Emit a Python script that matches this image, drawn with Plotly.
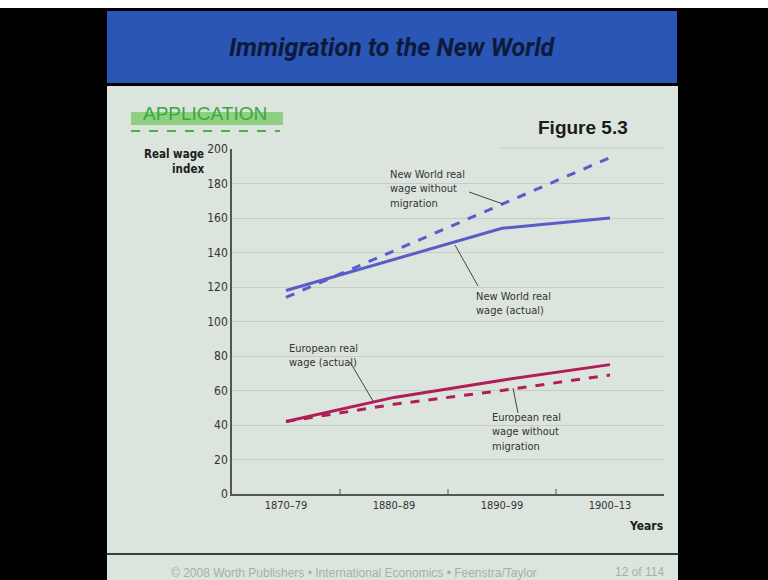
import plotly.graph_objects as go

periods = ["1870–79", "1880–89", "1890–99", "1900–13"]
nw_actual = [118, 136, 154, 160]
nw_without = [114, 141, 168, 195]
eu_actual = [42, 56, 66, 75]
eu_without = [42, 52, 60, 69]
y_ticks = list(range(0, 201, 20))

W, H = 768, 580
FONT = "DejaVu Sans Condensed, Liberation Sans Narrow, Roboto, sans-serif"
BLUE = "#5a5cc8"
RED = "#b01e57"
BG = "#dce4de"

def px(x):
    return x / W

def py(y):
    return 1 - y / H

fig = go.Figure()
fig.add_trace(go.Scatter(x=periods, y=nw_actual, mode="lines",
                         line=dict(color=BLUE, width=3), showlegend=False))
fig.add_trace(go.Scatter(x=periods, y=nw_without, mode="lines",
                         line=dict(color=BLUE, width=3, dash="dash"), showlegend=False))
fig.add_trace(go.Scatter(x=periods, y=eu_actual, mode="lines",
                         line=dict(color=RED, width=3), showlegend=False))
fig.add_trace(go.Scatter(x=periods, y=eu_without, mode="lines",
                         line=dict(color=RED, width=3, dash="dash"), showlegend=False))

shapes = [
    dict(type="rect", xref="paper", yref="paper", x0=0, x1=1, y0=py(8), y1=1,
         fillcolor="white", line_width=0, layer="below"),
    dict(type="rect", xref="paper", yref="paper", x0=px(107), x1=px(677), y0=py(83), y1=py(11),
         fillcolor="#2a56b6", line_width=0, layer="below"),
    dict(type="rect", xref="paper", yref="paper", x0=px(107), x1=px(678), y0=0, y1=py(86),
         fillcolor=BG, line_width=0, layer="below"),
    dict(type="rect", xref="paper", yref="paper", x0=px(131), x1=px(283), y0=py(125), y1=py(112),
         fillcolor="#8fcf82", line_width=0, layer="below"),
    dict(type="line", xref="paper", yref="paper", x0=px(131), x1=px(280), y0=py(131), y1=py(131),
         line=dict(color="#4caf4a", width=2, dash="dash"), layer="below"),
    dict(type="line", xref="paper", yref="paper", x0=px(500), x1=px(665), y0=py(148), y1=py(148),
         line=dict(color="#c8d0ca", width=1), layer="below"),
    dict(type="line", xref="paper", yref="paper", x0=px(107), x1=px(678), y0=py(554), y1=py(554),
         line=dict(color="#3a3d3b", width=2), layer="below"),
]

for b in [0.5, 1.5, 2.5]:
    shapes.append(dict(type="line", xref="x", yref="paper", x0=b, x1=b,
                       y0=py(494), y1=py(489), line=dict(color="#555", width=1)))

annotations = [
    dict(text="<i><b>Immigration to the New World</b></i>", xref="paper", yref="paper",
         x=px(392), y=py(47), showarrow=False, xanchor="center", yanchor="middle",
         font=dict(family="Roboto, sans-serif", size=25, color="#0e1a3a")),
    dict(text="APPLICATION", xref="paper", yref="paper", x=px(141), y=py(113),
         showarrow=False, xanchor="left", yanchor="middle",
         font=dict(family="Liberation Sans, sans-serif", size=19, color="#3aa840")),
    dict(text="<b>Figure 5.3</b>", xref="paper", yref="paper", x=px(630), y=py(127),
         showarrow=False, xanchor="right", yanchor="middle",
         font=dict(family="Liberation Sans, sans-serif", size=19, color="#1b1b1b")),
    dict(text="<b>Real wage</b><br><b>index</b>", xref="paper", yref="paper", x=px(206), y=py(161),
         showarrow=False, xanchor="right", yanchor="middle", align="right",
         font=dict(family=FONT, size=11.5, color="#1b1b1b")),
    dict(text="<b>Years</b>", xref="paper", yref="paper", x=px(665), y=py(526),
         showarrow=False, xanchor="right", yanchor="middle",
         font=dict(family=FONT, size=12, color="#1b1b1b")),
    dict(text="© 2008 Worth Publishers • International Economics • Feenstra/Taylor",
         xref="paper", yref="paper", x=px(354), y=py(573), showarrow=False,
         xanchor="center", yanchor="middle",
         font=dict(family="Liberation Sans, sans-serif", size=12, color="#a8aea9")),
    dict(text="12 of 114", xref="paper", yref="paper", x=px(666), y=py(572), showarrow=False,
         xanchor="right", yanchor="middle",
         font=dict(family="Liberation Sans, sans-serif", size=12, color="#a8aea9")),
]

lab_font = dict(family=FONT, size=11, color="#333")

def label(text, tx, ty, lx0, ly0, lx1, ly1):
    annotations.append(dict(text=text, xref="paper", yref="paper", x=px(tx), y=py(ty),
                            showarrow=False, xanchor="left", yanchor="top", align="left",
                            font=lab_font))
    shapes.append(dict(type="line", xref="paper", yref="paper", x0=px(lx0), y0=py(ly0),
                       x1=px(lx1), y1=py(ly1), line=dict(color="#444", width=1)))

label("New World real<br>wage without<br>migration", 388, 166, 469, 192, 503, 204)
label("New World real<br>wage (actual)", 474, 288, 478, 286, 455, 245)
label("European real<br>wage (actual)", 287, 340, 350, 362, 373, 401)
label("European real<br>wage without<br>migration", 490, 409, 513, 388, 518, 413)

fig.update_layout(
    width=W, height=H, autosize=False, margin=dict(l=0, r=0, t=0, b=0, pad=0),
    paper_bgcolor="black", plot_bgcolor="rgba(0,0,0,0)",
    shapes=shapes, annotations=annotations,
    xaxis=dict(domain=[px(232), px(664)], range=[-0.5, 3.5], type="category",
               showgrid=False, showline=True, linecolor="#555", linewidth=1.5,
               ticks="", tickfont=dict(family=FONT, size=11, color="#333"),
               zeroline=False, fixedrange=True, automargin=False),
    yaxis=dict(domain=[py(494), py(149)], range=[0, 200], tickvals=y_ticks,
               showgrid=True, gridcolor="#c5cdc7", gridwidth=1,
               showline=True, linecolor="#555", linewidth=1.5,
               ticks="", tickfont=dict(family=FONT, size=12, color="#333"),
               zeroline=False, fixedrange=True, automargin=False),
)
fig.write_html("out.html")
